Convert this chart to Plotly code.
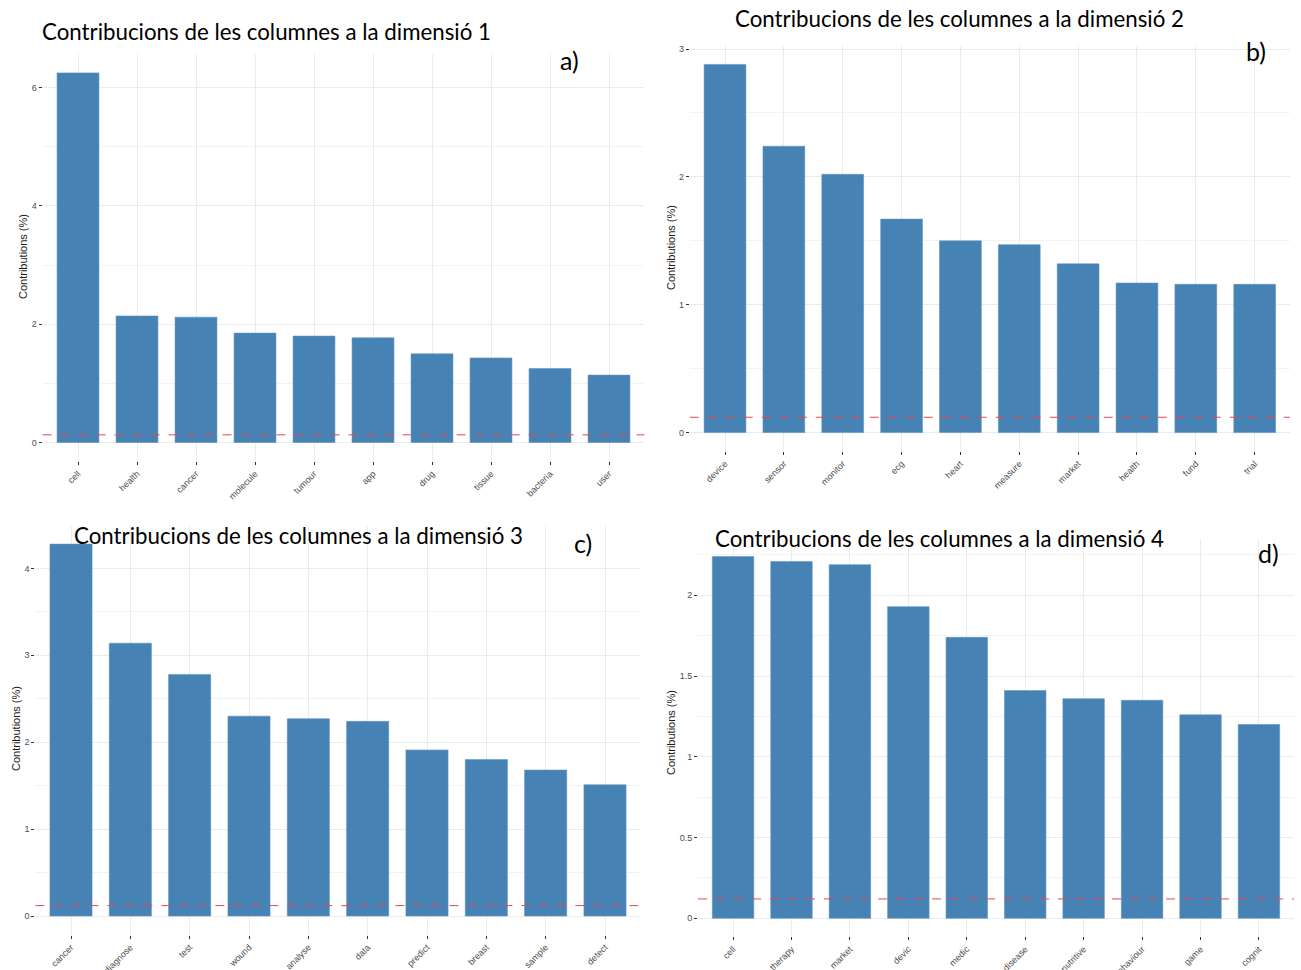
import plotly.graph_objects as go

# Column contributions to each dimension (%)
dim1_terms = ["cell", "health", "cancer", "molecule", "tumour", "app", "drug", "tissue", "bacteria", "user"]
dim1_values = [6.25, 2.14, 2.12, 1.85, 1.80, 1.77, 1.50, 1.43, 1.25, 1.14]
dim2_terms = ["device", "sensor", "monitor", "ecg", "heart", "measure", "market", "health", "fund", "trial"]
dim2_values = [2.88, 2.24, 2.02, 1.67, 1.50, 1.47, 1.32, 1.17, 1.16, 1.16]
dim3_terms = ["cancer", "diagnose", "test", "wound", "analyse", "data", "predict", "breast", "sample", "detect"]
dim3_values = [4.28, 3.14, 2.78, 2.30, 2.27, 2.24, 1.91, 1.80, 1.68, 1.51]
dim4_terms = ["cell", "therapy", "market", "devic", "medic", "disease", "nutritive", "behaviour", "game", "cognit"]
dim4_values = [2.24, 2.21, 2.19, 1.93, 1.74, 1.41, 1.36, 1.35, 1.26, 1.20]

# Expected average contribution (reference line)
expected = [0.13, 0.12, 0.12, 0.12]

titles = [
    "Contribucions de les columnes a la dimensió 1",
    "Contribucions de les columnes a la dimensió 2",
    "Contribucions de les columnes a la dimensió 3",
    "Contribucions de les columnes a la dimensió 4",
]
panel_tags = ["a)", "b)", "c)", "d)"]
major_dtick = [2, 1, 1, 0.5]

W, H = 1301, 970

# Panel boxes in pixels: (left, right, top, bottom)
boxes = [
    (42.6, 644.4, 54.4, 461.0),
    (689.7, 1290.0, 46.0, 451.0),
    (35.4, 640.6, 525.5, 934.6),
    (698.0, 1294.0, 538.5, 936.4),
]
title_pos = [(40, 32), (733, 18), (72, 535), (713, 538)]
tag_pos = [(569, 60), (1256, 51), (583, 543), (1268, 553)]
ytitle_pos = [(23, 257), (671, 248), (16, 729), (671, 733)]

terms = [dim1_terms, dim2_terms, dim3_terms, dim4_terms]
values = [dim1_values, dim2_values, dim3_values, dim4_values]

fig = go.Figure()
annotations = []
shapes = []

for i in range(4):
    n = str(i + 1) if i > 0 else ""
    xa, ya = "x" + n, "y" + n
    left, right, top, bottom = boxes[i]
    fig.add_trace(go.Bar(
        x=terms[i], y=values[i], xaxis=xa, yaxis=ya,
        marker=dict(color="#4682B4", line=dict(color="#5F94C1", width=0.6)),
        showlegend=False,
    ))
    vmax = max(values[i])
    axis_font = dict(family="Liberation Sans, Arial, sans-serif", size=9, color="#4D4D4D")
    fig.layout["xaxis" + n] = dict(
        domain=[left / W, right / W], anchor=ya, type="category",
        range=[-0.6, len(terms[i]) - 0.4],
        showgrid=True, gridcolor="#EBEBEB", gridwidth=1,
        ticks="outside", ticklen=3, tickcolor="#333333", tickwidth=1,
        tickangle=-45, tickfont=axis_font, showline=False, zeroline=False,
        automargin=False, fixedrange=True,
    )
    fig.layout["yaxis" + n] = dict(
        domain=[1 - bottom / H, 1 - top / H], anchor=xa,
        range=[-0.05 * vmax, 1.05 * vmax], dtick=major_dtick[i], tick0=0,
        showgrid=True, gridcolor="#EBEBEB", gridwidth=1,
        minor=dict(dtick=major_dtick[i] / 2, showgrid=True, gridcolor="#F3F3F3", gridwidth=0.6),
        ticks="outside", ticklen=3, tickcolor="#333333", tickwidth=1,
        tickfont=axis_font, showline=False, zeroline=False,
        automargin=False, fixedrange=True,
    )
    shapes.append(dict(
        type="line", xref=xa + " domain", yref=ya, x0=0, x1=1,
        y0=expected[i], y1=expected[i],
        line=dict(color="#E8474B", width=1, dash="dash"),
    ))
    tx, ty = title_pos[i]
    annotations.append(dict(
        text=titles[i], xref="paper", yref="paper", x=tx / W, y=1 - ty / H,
        xanchor="left", yanchor="middle", showarrow=False,
        font=dict(family="Lato, Open Sans, sans-serif", size=22.3, color="#000000"),
    ))
    gx, gy = tag_pos[i]
    annotations.append(dict(
        text=panel_tags[i], xref="paper", yref="paper", x=gx / W, y=1 - gy / H,
        xanchor="center", yanchor="middle", showarrow=False,
        font=dict(family="Lato, Open Sans, sans-serif", size=25, color="#000000"),
    ))
    yx, yy = ytitle_pos[i]
    annotations.append(dict(
        text="Contributions (%)", xref="paper", yref="paper", x=yx / W, y=1 - yy / H,
        xanchor="center", yanchor="middle", showarrow=False, textangle=-90,
        font=dict(family="Liberation Sans, Arial, sans-serif", size=11, color="#1A1A1A"),
    ))

fig.update_layout(
    width=W, height=H, margin=dict(l=0, r=0, t=0, b=0),
    paper_bgcolor="white", plot_bgcolor="white",
    bargap=0.29, annotations=annotations, shapes=shapes,
)

fig.write_html("out.html")
